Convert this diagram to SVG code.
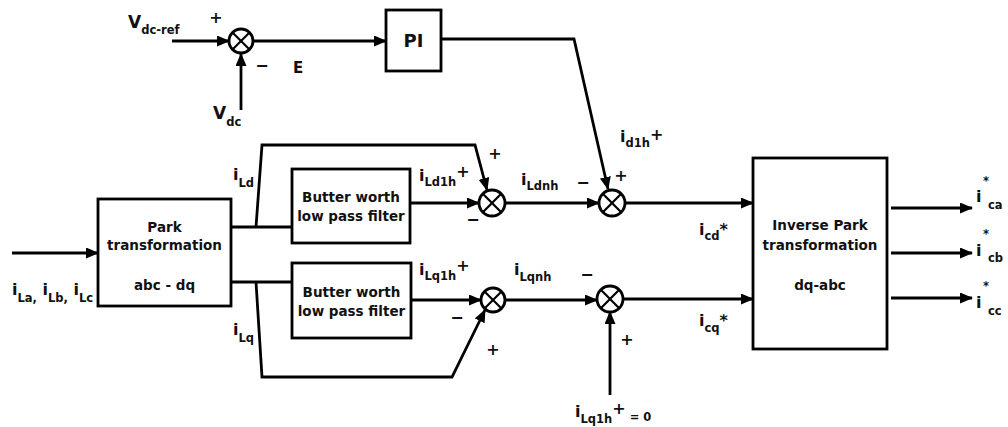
<svg xmlns="http://www.w3.org/2000/svg" width="1008" height="427" viewBox="0 0 1008 427">
<defs>
<style>
.ln{fill:none;stroke:#000;stroke-width:2.8;stroke-linejoin:miter}
.ar{marker-end:url(#ah)}
.box{fill:#fff;stroke:#000;stroke-width:2.8}
.sum circle{fill:#fff;stroke:#000;stroke-width:2.8}
.sum line{stroke:#000;stroke-width:2.2}
text{font-family:"DejaVu Sans","Verdana",sans-serif;font-weight:bold;fill:#111}
.bt{font-size:13.5px;text-anchor:middle}
.lb{font-size:16px}
.sub{font-size:11.5px}
.sg{font-size:16px;text-anchor:middle}
</style>
<marker id="ah" markerUnits="userSpaceOnUse" markerWidth="14" markerHeight="12" refX="12" refY="5.5" orient="auto">
<path d="M0,0 L13,5.5 L0,11 z" fill="#000"/>
</marker>
</defs>

<g id="connectors">
<path class="ln ar" d="M172,41 H229"/>
<path class="ln ar" d="M241,110 V54"/>
<path class="ln ar" d="M253,41 H386"/>
<path class="ln ar" d="M441,39 H574 L608,189"/>
<path class="ln ar" d="M12,253 H98"/>
<path class="ln" d="M231,227 H292"/>
<path class="ln ar" d="M256,227 L262,145 H475 L487,190"/>
<path class="ln ar" d="M411,203 H479"/>
<path class="ln ar" d="M505,203 H599"/>
<path class="ln ar" d="M625,203 H753"/>
<path class="ln" d="M231,282 H292"/>
<path class="ln ar" d="M256,282 L262,377 H452 L485,310"/>
<path class="ln ar" d="M411,300 H481"/>
<path class="ln ar" d="M505,300 H597"/>
<path class="ln ar" d="M623,299 H753"/>
<path class="ln ar" d="M610,395 V312"/>
<path class="ln ar" d="M891,208 H972"/>
<path class="ln ar" d="M891,253 H972"/>
<path class="ln ar" d="M891,298 H972"/>
</g>

<g id="sum1" class="sum"><circle cx="241" cy="41" r="12"/><line x1="232.5" y1="32.5" x2="249.5" y2="49.5"/><line x1="249.5" y1="32.5" x2="232.5" y2="49.5"/></g>
<g id="sum2" class="sum"><circle cx="492" cy="203" r="13"/><line x1="482.8" y1="193.8" x2="501.2" y2="212.2"/><line x1="501.2" y1="193.8" x2="482.8" y2="212.2"/></g>
<g id="sum3" class="sum"><circle cx="612" cy="203" r="13"/><line x1="602.8" y1="193.8" x2="621.2" y2="212.2"/><line x1="621.2" y1="193.8" x2="602.8" y2="212.2"/></g>
<g id="sum4" class="sum"><circle cx="493" cy="300" r="12"/><line x1="484.5" y1="291.5" x2="501.5" y2="308.5"/><line x1="501.5" y1="291.5" x2="484.5" y2="308.5"/></g>
<g id="sum5" class="sum"><circle cx="610" cy="299" r="13"/><line x1="600.8" y1="289.8" x2="619.2" y2="308.2"/><line x1="619.2" y1="289.8" x2="600.8" y2="308.2"/></g>

<g id="pi"><rect class="box" x="386" y="10" width="55" height="61"/><text x="413.5" y="47" style="font-size:18px;text-anchor:middle">PI</text></g>

<g id="park"><rect class="box" x="98" y="199" width="133" height="107"/>
<text class="bt" x="164.5" y="232">Park</text>
<text class="bt" x="164.5" y="250">transformation</text>
<text class="bt" x="164.5" y="290">abc - dq</text></g>

<g id="bwd"><rect class="box" x="292" y="169" width="118" height="74"/>
<text class="bt" x="351" y="202">Butter worth</text>
<text class="bt" x="351" y="221">low pass filter</text></g>

<g id="bwq"><rect class="box" x="292" y="263" width="119" height="75"/>
<text class="bt" x="351.5" y="297">Butter worth</text>
<text class="bt" x="351.5" y="316">low pass filter</text></g>

<g id="invpark"><rect class="box" x="753" y="158" width="134" height="191"/>
<text class="bt" x="820" y="230">Inverse Park</text>
<text class="bt" x="820" y="250">transformation</text>
<text class="bt" x="820" y="290">dq-abc</text></g>

<g id="labels">
<text x="128" y="28" style="font-size:17px">V<tspan class="sub" dy="6">dc-ref</tspan></text>
<text class="sg" x="216" y="23">+</text>
<text class="sg" x="262" y="71">−</text>
<text x="293" y="73" style="font-size:15px">E</text>
<text x="213" y="119" style="font-size:17px">V<tspan class="sub" dy="7">dc</tspan></text>

<text class="lb" x="12" y="295">i<tspan class="sub" dy="7">La</tspan><tspan class="sub">,</tspan><tspan dy="-7"> i</tspan><tspan class="sub" dy="7">Lb</tspan><tspan class="sub">,</tspan><tspan dy="-7"> i</tspan><tspan class="sub" dy="7">Lc</tspan></text>

<text class="lb" x="233" y="180">i<tspan class="sub" dy="7">Ld</tspan></text>
<text class="lb" x="233" y="335">i<tspan class="sub" dy="7">Lq</tspan></text>

<text class="lb" x="419" y="181">i<tspan class="sub" dy="5">Ld1h</tspan><tspan dy="-9">+</tspan></text>
<text class="lb" x="419" y="275">i<tspan class="sub" dy="5">Lq1h</tspan><tspan dy="-9">+</tspan></text>
<text class="sg" x="495" y="159">+</text>
<text class="sg" x="473" y="225">−</text>

<text class="lb" x="521" y="185">i<tspan class="sub" dy="5">Ldnh</tspan></text>
<text class="lb" x="514" y="275">i<tspan class="sub" dy="6">Lqnh</tspan></text>

<text class="lb" x="620" y="142">i<tspan class="sub" dy="5">d1h</tspan><tspan dy="-7">+</tspan></text>
<text class="sg" x="583" y="188">−</text>
<text class="sg" x="621" y="181">+</text>

<text class="sg" x="457" y="323">−</text>
<text class="sg" x="493" y="355">+</text>
<text class="sg" x="587" y="280">−</text>
<text class="sg" x="627" y="345">+</text>

<text class="lb" x="575" y="417">i<tspan class="sub" dy="6">Lq1h</tspan><tspan dy="-9">+</tspan><tspan class="sub" dy="7"> = 0</tspan></text>

<text class="lb" x="699" y="235">i<tspan class="sub" dy="5">cd</tspan><tspan dy="-5">*</tspan></text>
<text class="lb" x="699" y="326">i<tspan class="sub" dy="6">cq</tspan><tspan dy="-6">*</tspan></text>

<text class="lb" x="976" y="202">i</text><text class="sub" x="983" y="185">*</text><text class="sub" x="988" y="209">ca</text>
<text class="lb" x="976" y="256">i</text><text class="sub" x="983" y="238">*</text><text class="sub" x="988" y="262">cb</text>
<text class="lb" x="976" y="308">i</text><text class="sub" x="983" y="290">*</text><text class="sub" x="988" y="315">cc</text>
</g>
</svg>
